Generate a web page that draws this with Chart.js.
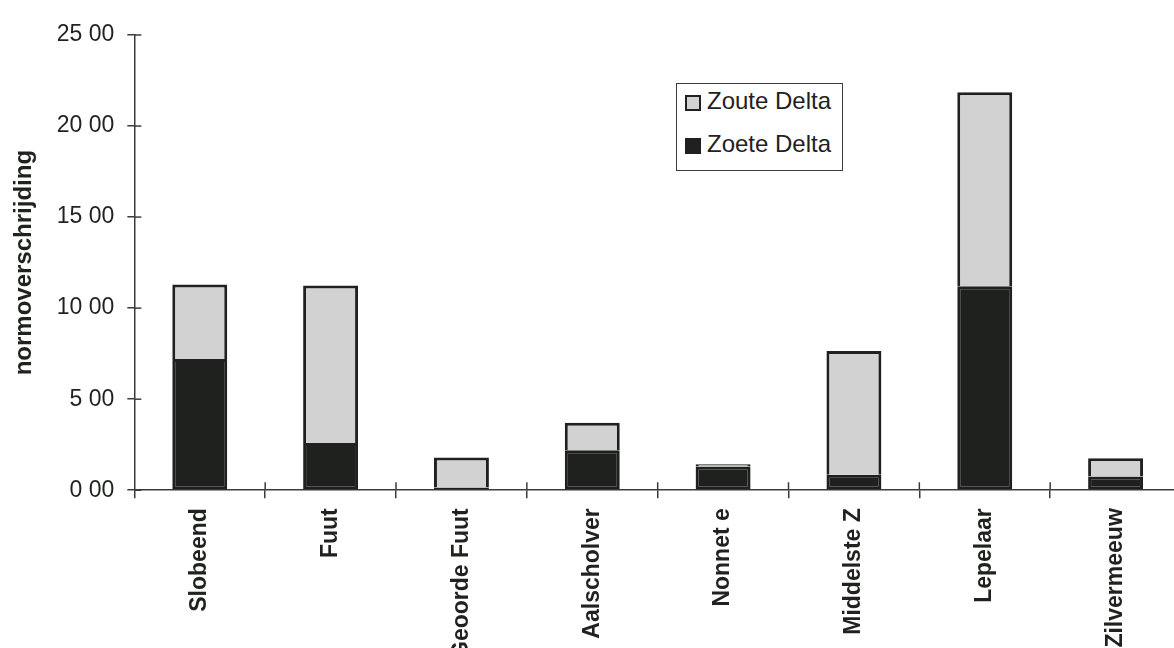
<!DOCTYPE html>
<html>
<head>
<meta charset="utf-8">
<script src="https://cdn.jsdelivr.net/npm/chart.js@4.4.0/dist/chart.umd.min.js"></script>
<style>
  html, body { margin: 0; padding: 0; background: #fff; overflow: hidden; }
  #wrap { position: relative; width: 1190px; height: 700px; }
  #legenda {
    position: absolute; left: 676px; top: 83px; width: 165px; height: 86px;
    border: 1px solid #3a3d3a; background: #fff;
    font-family: "Liberation Sans", Arial, sans-serif; font-size: 24px; color: #1f221f;
  }
  #legenda .item { position: absolute; left: 8px; height: 24px; line-height: 24px; white-space: nowrap; }
  #legenda .box { display: inline-block; width: 12px; height: 12px; border: 2px solid #1e211e; margin-right: 6px; vertical-align: -2px; }
</style>
</head>
<body>
<div id="wrap">
  <canvas id="grafiek" width="1190" height="700"></canvas>
  <div id="legenda"></div>
</div>
<script>
const soorten = ["Slobeend", "Fuut", "Geoorde Fuut", "Aalscholver", "Nonnet e", "Middelste Z", "Lepelaar", "Zilvermeeuw"];
const zoeteDelta = [7.2, 2.6, 0.15, 2.2, 1.3, 0.85, 11.2, 0.75];
const zouteDelta = [4.1, 8.65, 1.65, 1.5, 0.12, 6.8, 10.65, 1.0];
const yLabels = ["0 00", "5 00", "10 00", "15 00", "20 00", "25 00"];

const donker = "#1e211e";
const licht = "#d2d2d2";

// korte streepjes die aan beide kanten door de assen steken
const asStreepjes = {
  id: "asStreepjes",
  afterDraw(chart) {
    const ctx = chart.ctx;
    const x = chart.scales.x, y = chart.scales.y;
    ctx.save();
    ctx.strokeStyle = "#3a3d3a";
    ctx.lineWidth = 1.5;
    y.ticks.forEach((t, i) => {
      const py = y.getPixelForTick(i);
      ctx.beginPath();
      ctx.moveTo(x.left, py);
      ctx.lineTo(x.left + 7, py);
      ctx.stroke();
    });
    const stap = x.getPixelForValue(1) - x.getPixelForValue(0);
    for (let i = 1; i <= soorten.length; i++) {
      const px = x.getPixelForValue(i) - stap / 2;
      ctx.beginPath();
      ctx.moveTo(px, y.bottom);
      ctx.lineTo(px, y.bottom - 8);
      ctx.stroke();
    }
    ctx.restore();
  },
};

const grafiek = new Chart(document.getElementById("grafiek"), {
  type: "bar",
  data: {
    labels: soorten,
    datasets: [
      {
        label: "Zoete Delta",
        data: zoeteDelta,
        backgroundColor: donker,
        borderColor: donker,
        borderWidth: 3,
        borderSkipped: false,
        stack: "delta",
      },
      {
        label: "Zoute Delta",
        data: zouteDelta,
        backgroundColor: licht,
        borderColor: donker,
        borderWidth: { top: 3, left: 3, right: 3, bottom: 0 },
        borderSkipped: false,
        stack: "delta",
      },
    ],
  },
  options: {
    responsive: false,
    animation: false,
    layout: { padding: { top: 35, right: 9, left: 10, bottom: 31 } },
    plugins: { legend: { display: false }, tooltip: { enabled: false } },
    datasets: { bar: { categoryPercentage: 1, barPercentage: 0.42 } },
    scales: {
      x: {
        stacked: true,
        grid: { display: true, drawOnChartArea: false, offset: true, tickLength: 8, color: "#3a3d3a", lineWidth: 1.5 },
        border: { display: true, color: "#3a3d3a", width: 1.5 },
        ticks: {
          maxRotation: 90, minRotation: 90, padding: 10,
          color: "#1f221f",
          font: { family: "'Liberation Sans', Arial, sans-serif", size: 23, weight: "bold" },
        },
      },
      y: {
        stacked: true,
        min: 0, max: 25,
        grid: { display: true, drawOnChartArea: false, tickLength: 7, color: "#3a3d3a", lineWidth: 1.5 },
        border: { display: true, color: "#3a3d3a", width: 1.5 },
        ticks: {
          stepSize: 5, padding: 13,
          color: "#1f221f",
          font: { family: "'Liberation Sans', Arial, sans-serif", size: 23 },
          callback: (v) => yLabels[v / 5],
        },
        title: {
          display: true, text: "normoverschrijding", color: "#1f221f", padding: { top: 0, bottom: 5 },
          font: { family: "'Liberation Sans', Arial, sans-serif", size: 24, weight: "bold" },
        },
      },
    },
  },
  plugins: [asStreepjes],
});

// legenda: lichte reeks bovenaan, zoals gestapeld
const legenda = document.getElementById("legenda");
[...grafiek.data.datasets].reverse().forEach((ds, i) => {
  const item = document.createElement("div");
  item.className = "item";
  item.style.top = (5 + i * 43) + "px";
  item.innerHTML = '<span class="box" style="background:' + ds.backgroundColor + '"></span>' + ds.label;
  legenda.appendChild(item);
});
</script>
</body>
</html>
